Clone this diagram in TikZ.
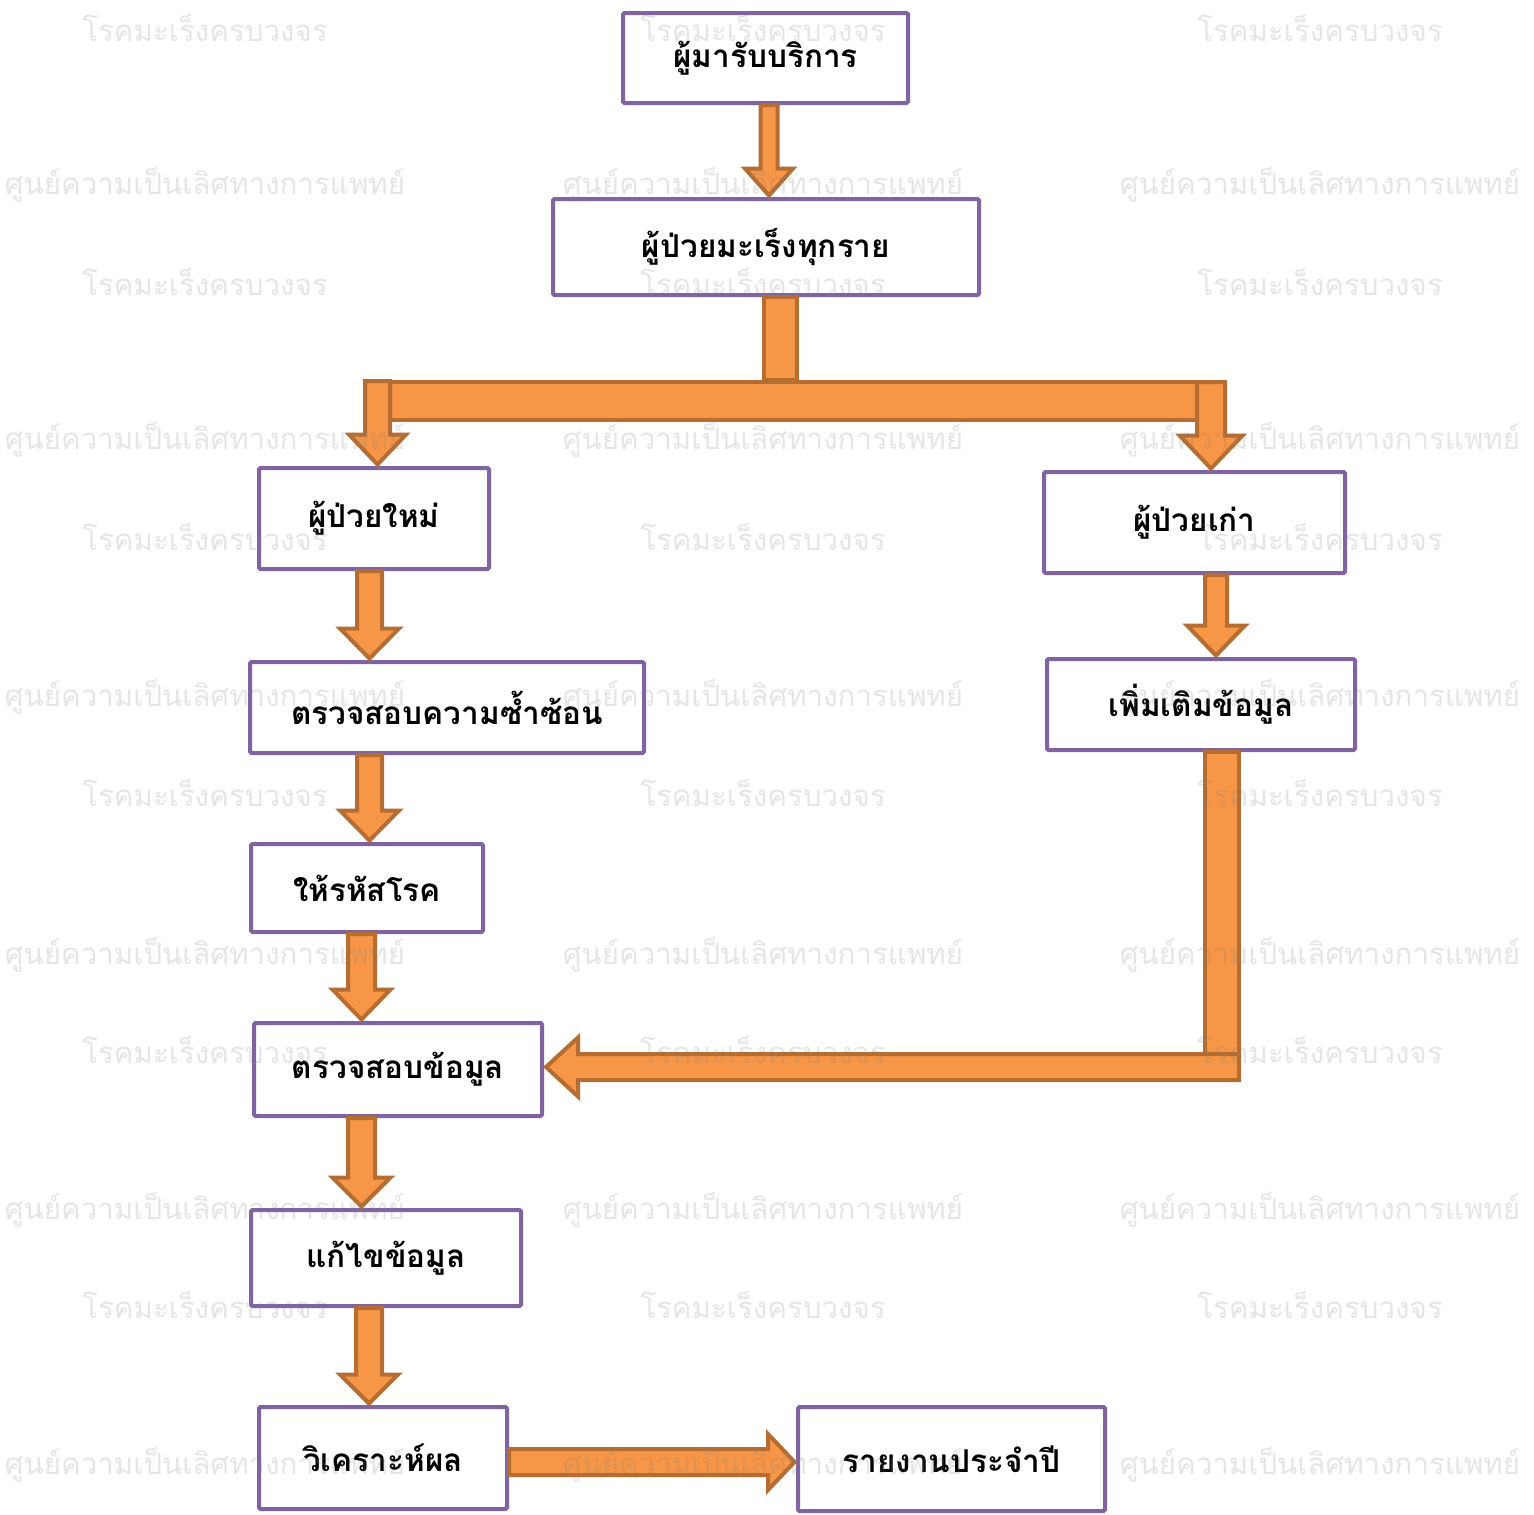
\documentclass[tikz,border=0pt]{standalone}
\usepackage{fontspec}
\newfontfamily\thaifont[Script=Thai]{Loma}
\usetikzlibrary{calc}
\definecolor{boxpurple}{HTML}{8064A2}
\definecolor{arrfill}{HTML}{F79646}
\definecolor{arrline}{HTML}{B66D31}
\newcommand\dnarrow[6]{%
  \draw[barrow] let \p1=(#2), \p2=(#3) in
    (#1pt-#4pt,\y1) -- (#1pt-#4pt,\y2+#6pt+1.5pt) -- (#1pt-#5pt,\y2+#6pt+1.5pt) -- (#1pt,\y2+1.5pt)
    -- (#1pt+#5pt,\y2+#6pt+1.5pt) -- (#1pt+#4pt,\y2+#6pt+1.5pt) -- (#1pt+#4pt,\y1) -- cycle;}
\begin{document}
\begin{tikzpicture}[x=1pt,y=-1pt,
  stepbox/.style={draw=boxpurple, line width=4pt, fill=white, rounded corners=1.5pt, inner sep=0pt,
    font=\thaifont\bfseries\fontsize{31.5}{36}\selectfont, text=black},
  barrow/.style={fill=arrfill, draw=arrline, line width=4pt, line join=miter},
  wmark/.style={font=\thaifont\fontsize{29.5}{34}\selectfont, text=gray, opacity=0.2}]
\useasboundingbox (0,0) rectangle (1534,1515);
\fill[white] (0,0) rectangle (1534,1515);
% boxes
\node[stepbox, minimum width=285pt, minimum height=90pt]  (b1)  at (765.5,58)    {ผู้มารับบริการ};
\node[stepbox, minimum width=426pt, minimum height=96pt]  (b2)  at (766,247)     {ผู้ป่วยมะเร็งทุกราย};
\node[stepbox, minimum width=230pt, minimum height=101pt] (b3)  at (374,518.5)   {ผู้ป่วยใหม่};
\node[stepbox, minimum width=301pt, minimum height=101pt] (b4)  at (1194.5,522.5){ผู้ป่วยเก่า};
\node[stepbox, minimum width=394pt, minimum height=91pt]  (b5)  at (447,707.5)   {ตรวจสอบความซ้ำซ้อน};
\node[stepbox, minimum width=308pt, minimum height=91pt]  (b6)  at (1201,704.5)  {เพิ่มเติมข้อมูล};
\node[stepbox, minimum width=232pt, minimum height=88pt]  (b7)  at (367,888)     {ให้รหัสโรค};
\node[stepbox, minimum width=288pt, minimum height=93pt]  (b8)  at (398,1069.5)  {ตรวจสอบข้อมูล};
\node[stepbox, minimum width=270pt, minimum height=96pt]  (b9)  at (386,1258)    {แก้ไขข้อมูล};
\node[stepbox, minimum width=248pt, minimum height=102pt] (b10) at (383,1458)    {วิเคราะห์ผล};
\node[stepbox, minimum width=307pt, minimum height=104pt] (b11) at (951.5,1459)  {รายงานประจำปี};
% arrows
\dnarrow{769}{b1.south}{b2.north}{8.5}{24}{27}
% split
\draw[barrow] let \p1=(b2.south) in (764pt,\y1) rectangle (797pt,-380pt);
\draw[barrow] (375,382) rectangle (1215,420);
\coordinate (sl) at (377.5,381);
\coordinate (sr) at (1211,382);
\dnarrow{377.5}{sl}{b3.north}{12.5}{28.5}{30}
\dnarrow{1211}{sr}{b4.north}{14}{31.5}{33}
% left column
\dnarrow{369.5}{b3.south}{b5.north}{12.5}{29.5}{30}
\dnarrow{369.5}{b5.south}{b7.north}{12.5}{29.5}{30}
\dnarrow{361.5}{b7.south}{b8.north}{13.5}{29}{30}
\dnarrow{361.5}{b8.south}{b9.north}{13.5}{29}{29}
\dnarrow{369}{b9.south}{b10.north}{13}{29}{29}
% right column
\dnarrow{1216}{b4.south}{b6.north}{11}{29}{30}
\draw[barrow] let \p1=(b6.south) in (1205pt,\y1) rectangle (1239pt,-1054pt);
\draw[barrow] let \p1=(b8.east) in
  (1239pt,-1054pt) -- (\x1+34pt,-1054pt) -- (\x1+34pt,-1037.5pt) -- (\x1+2pt,-1067pt)
  -- (\x1+34pt,-1096.5pt) -- (\x1+34pt,-1080pt) -- (1239pt,-1080pt) -- cycle;
% bottom
\draw[barrow] let \p1=(b10.east), \p2=(b11.west) in
  (\x1,-1449pt) -- (\x2-28pt,-1449pt) -- (\x2-28pt,-1434pt) -- (\x2-1.5pt,-1462pt)
  -- (\x2-28pt,-1490pt) -- (\x2-28pt,-1475pt) -- (\x1,-1475pt) -- cycle;
% watermarks
\foreach \r [count=\i] in {28,282,537,793,1050,1305}
  \foreach \cx [count=\j] in {205,763,1320}
    \node[wmark] (wa\i\j) at (\cx,\r) {โรคมะเร็งครบวงจร};
\foreach \r [count=\i] in {185,440,697,955,1210,1465}
  \foreach \cx [count=\j] in {205,763,1320}
    \node[wmark] (wb\i\j) at (\cx,\r) {ศูนย์ความเป็นเลิศทางการแพทย์};
\end{tikzpicture}
\end{document}
